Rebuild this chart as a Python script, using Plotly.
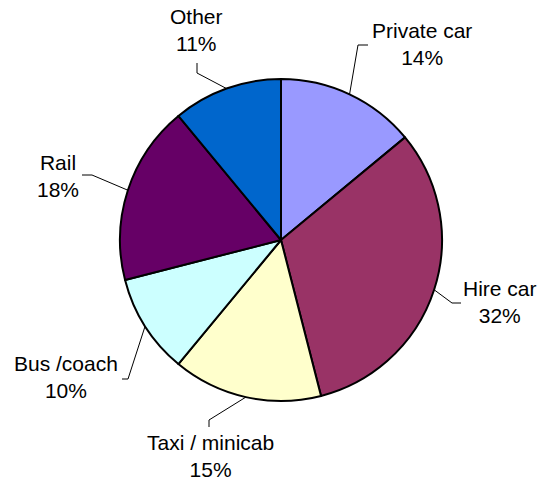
import math
import plotly.graph_objects as go

categories = ["Private car", "Hire car", "Taxi / minicab", "Bus /coach", "Rail", "Other"]
values = [14, 32, 15, 10, 18, 11]
colors = ["#9999FF", "#993366", "#FFFFCC", "#CCFFFF", "#660066", "#0066CC"]

W, H = 542, 485
CX, CY, R = 281, 240, 161

# label layout (page pixel positions): text centre, elbow point, end point
label_pos = {
    "Private car": ((422, 44), (358, 45), (368, 45)),
    "Hire car": ((500, 302), (452, 303), (461, 303)),
    "Taxi / minicab": ((210, 456), (209, 420), (209, 427)),
    "Bus /coach": ((66, 377), (128, 379), (122, 379)),
    "Rail": ((58, 176), (92, 175), (82, 175)),
    "Other": ((196, 30), (197, 73), (197, 63)),
}

def px(x):
    return x / W

def py(y):
    return 1 - y / H

fig = go.Figure(go.Pie(
    labels=categories, values=values, sort=False, direction="clockwise",
    rotation=0, textinfo="none", hoverinfo="label+percent",
    marker=dict(colors=colors, line=dict(color="black", width=2)),
    domain=dict(x=[px(CX - R), px(CX + R)], y=[py(CY + R), py(CY - R)]),
    showlegend=False,
))

total = sum(values)
cum = 0
shapes = []
annotations = []
for cat, v in zip(categories, values):
    mid = (cum + v / 2) / total * 2 * math.pi
    cum += v
    sx = CX + R * math.sin(mid)
    sy = CY - R * math.cos(mid)
    (tx, ty), (ex, ey), (fx, fy) = label_pos[cat]
    path = f"M {px(sx)},{py(sy)} L {px(ex)},{py(ey)} L {px(fx)},{py(fy)}"
    shapes.append(dict(type="path", path=path, xref="paper", yref="paper",
                       line=dict(color="black", width=1)))
    pct = round(v / total * 100)
    annotations.append(dict(x=px(tx), y=py(ty), xref="paper", yref="paper",
                            text=f"{cat}<br>{pct}%", showarrow=False,
                            xanchor="center", yanchor="middle",
                            font=dict(family="Liberation Sans, Arial", size=21, color="black")))

fig.update_layout(
    width=W, height=H, margin=dict(l=0, r=0, t=0, b=0),
    paper_bgcolor="white", plot_bgcolor="white",
    shapes=shapes, annotations=annotations,
)
fig.write_html("out.html", config={"displayModeBar": False},
               post_script="document.body.style.margin='0';")
